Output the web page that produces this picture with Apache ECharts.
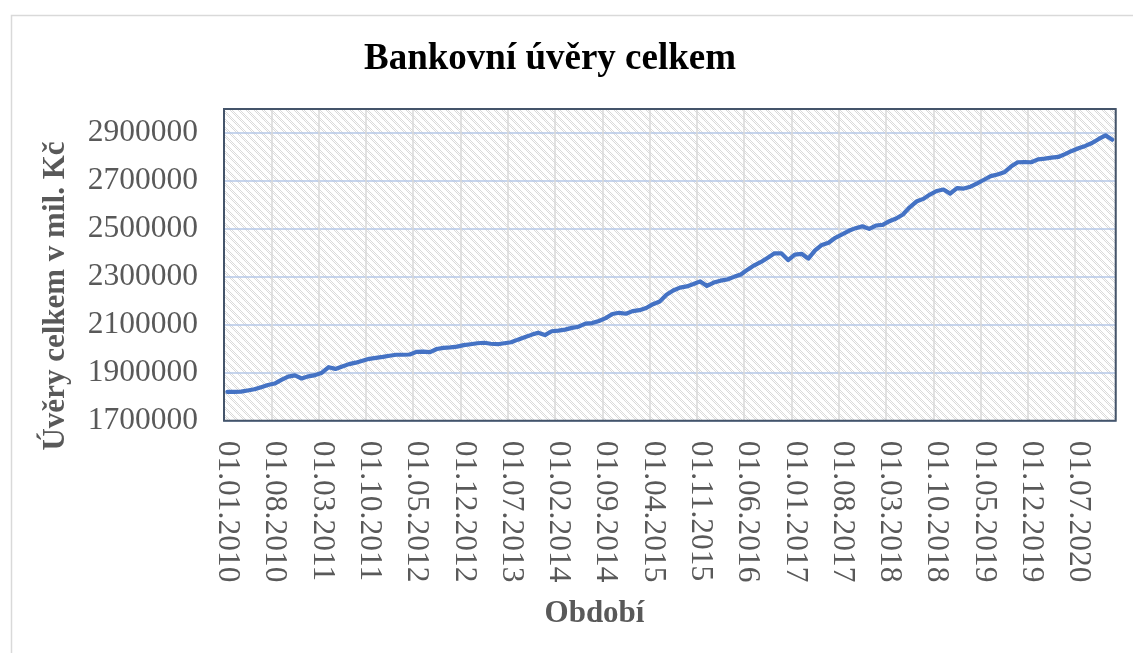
<!DOCTYPE html>
<html>
<head>
<meta charset="utf-8">
<script src="https://cdn.jsdelivr.net/npm/echarts@6/dist/echarts.min.js"></script>
<style>
html,body{margin:0;padding:0;background:#fff;overflow:hidden;}
#chart{width:1133px;height:653px;}
</style>
</head>
<body>
<div id="chart"></div>
<script>
// ---- data ----
var titleText = 'Bankovní úvěry celkem';
var xAxisName = 'Období';
var yAxisName = 'Úvěry celkem v mil. Kč';
var startYear = 2010, endYear = 2020;
var categories = [];
for (var y = startYear; y <= endYear; y++) {
  for (var m = 1; m <= 12; m++) {
    categories.push('01.' + (m < 10 ? '0' + m : m) + '.' + y);
  }
}
var loans2010 = [1820000,1820000,1821000,1826000,1831000,1840000,1849000,1855000,1870000,1884000,1889000,1876000];
var loans2011 = [1885000,1890000,1900000,1923000,1916000,1926000,1936000,1942000,1950000,1958000,1962000,1966000];
var loans2012 = [1971000,1975000,1975000,1976000,1987000,1988000,1986000,1999000,2004000,2006000,2009000,2015000];
var loans2013 = [2019000,2023000,2025000,2021000,2019000,2023000,2027000,2038000,2048000,2058000,2067000,2057000];
var loans2014 = [2073000,2076000,2080000,2087000,2092000,2105000,2107000,2116000,2128000,2145000,2150000,2146000];
var loans2015 = [2157000,2161000,2170000,2186000,2197000,2225000,2243000,2255000,2260000,2270000,2281000,2262000];
var loans2016 = [2276000,2284000,2289000,2300000,2310000,2330000,2348000,2362000,2380000,2398000,2398000,2370000];
var loans2017 = [2393000,2396000,2376000,2410000,2433000,2442000,2463000,2477000,2492000,2503000,2511000,2500000];
var loans2018 = [2514000,2517000,2532000,2543000,2560000,2590000,2614000,2625000,2643000,2658000,2664000,2647000];
var loans2019 = [2670000,2668000,2676000,2690000,2705000,2720000,2727000,2736000,2760000,2778000,2779000,2778000];
var loans2020 = [2790000,2793000,2797000,2800000,2812000,2825000,2836000,2846000,2858000,2875000,2890000,2872000];
var values = [].concat(loans2010,loans2011,loans2012,loans2013,loans2014,loans2015,loans2016,loans2017,loans2018,loans2019,loans2020);
var yMin = 1700000, yMax = 3000000, yStep = 200000;

// ---- hatch pattern ----
var pc = document.createElement('canvas');
pc.width = 8; pc.height = 8;
var pctx = pc.getContext('2d');
pctx.fillStyle = '#ffffff';
pctx.fillRect(0,0,8,8);
pctx.fillStyle = '#dadada';
for (var py = 0; py < 8; py++) {
  for (var px = 0; px < 8; px++) {
    var d = ((px - py) % 8 + 8) % 8;
    if (d < 4 && (px + py) % 2 === 0) pctx.fillRect(px, py, 1, 1);
  }
}

var gl = 224, gt = 109, gw = 891.7, gh = 311.7;
var serif = "'Liberation Serif','Times New Roman',serif";
var chart = echarts.init(document.getElementById('chart'));
chart.setOption({
  animation: false,
  backgroundColor: '#ffffff',
  graphic: [
    { type: 'rect', left: 9, top: 13, shape: { width: 1300, height: 800 }, style: { fill: 'none', stroke: '#d9d9d9', lineWidth: 1.5 }, z: -10, silent: true },
    { type: 'rect', x: gl, y: gt, shape: { width: gw, height: gh }, style: { fill: 'none', stroke: '#44546A', lineWidth: 2 }, z: 100, silent: true },
    { type: 'text', x: 550, y: 59, style: { text: titleText, fontFamily: serif, fontWeight: 'bold', fontSize: 37, fill: '#000000', align: 'center', verticalAlign: 'middle' } },
    { type: 'text', x: 594.5, y: 614, style: { text: xAxisName, fontFamily: serif, fontWeight: 'bold', fontSize: 31, fill: '#595959', align: 'center', verticalAlign: 'middle' } },
    { type: 'text', x: 56, y: 296, rotation: Math.PI / 2, style: { text: yAxisName, fontFamily: serif, fontWeight: 'bold', fontSize: 31, fill: '#595959', align: 'center', verticalAlign: 'middle' } }
  ],
  grid: {
    left: gl, top: gt, right: 1133 - gl - gw, bottom: 653 - gt - gh,
    show: true,
    backgroundColor: { image: pc, repeat: 'repeat' },
    borderWidth: 0
  },
  xAxis: {
    type: 'category',
    data: categories,
    boundaryGap: true,
    axisLine: { show: false },
    axisTick: { show: false, interval: 6 },
    axisLabel: { interval: 6, rotate: -90, margin: 20, fontFamily: serif, fontSize: 31.5, color: '#595959' },
    splitLine: { show: true, interval: 6, lineStyle: { color: '#d9d9d9', width: 1.5 } }
  },
  yAxis: {
    type: 'value',
    min: yMin, max: yMax, interval: yStep,
    axisLine: { show: false },
    axisTick: { show: false },
    axisLabel: { margin: 26, fontFamily: serif, fontSize: 31.5, color: '#595959', showMaxLabel: false, formatter: function (v) { return String(v); } },
    splitLine: { show: true, lineStyle: { color: '#b4c7e7', width: 1.5 } }
  },
  series: [{
    type: 'line',
    data: values,
    symbol: 'none',
    lineStyle: { color: '#4472C4', width: 4.2, join: 'round', cap: 'round' },
    z: 5
  }]
});
</script>
</body>
</html>
